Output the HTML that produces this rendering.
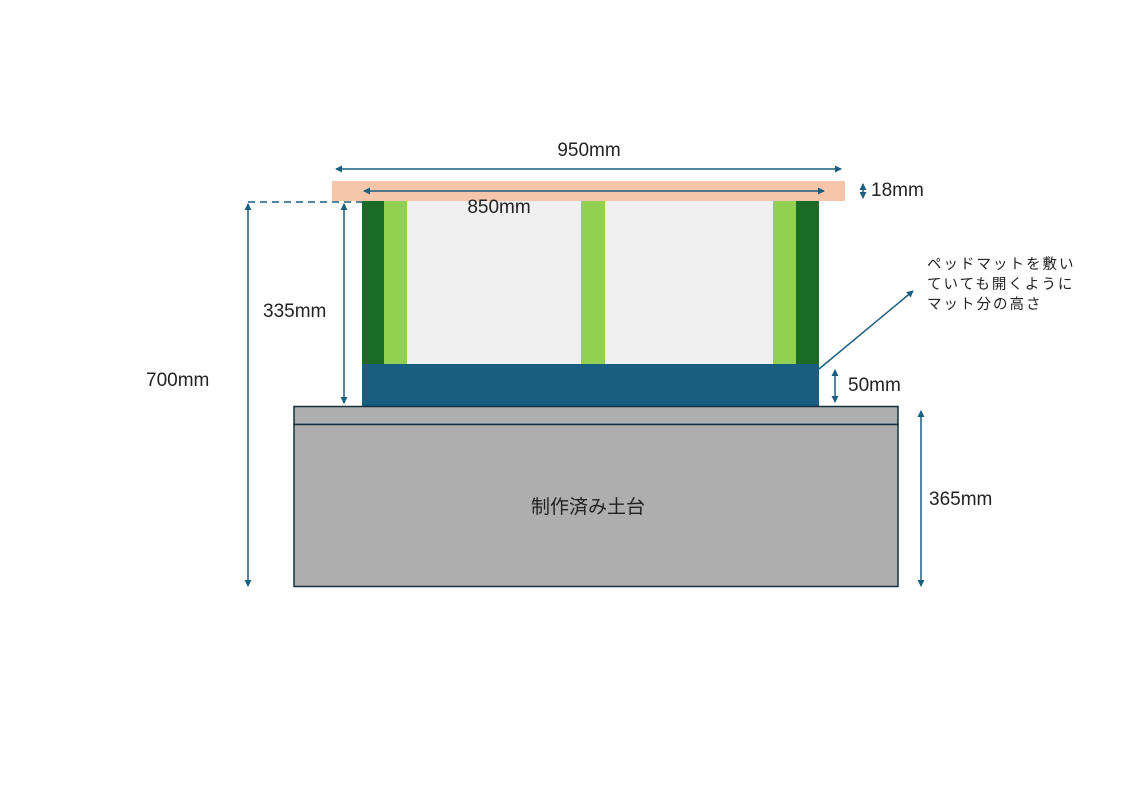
<!DOCTYPE html>
<html><head><meta charset="utf-8"><style>
body{margin:0;background:#fff;width:1123px;height:794px;overflow:hidden}
text{font-family:"Liberation Sans","Noto Sans CJK JP",sans-serif;fill:#222}
</style></head><body>
<svg width="1123" height="794" viewBox="0 0 1123 794">
<defs><marker id="a" markerWidth="8" markerHeight="8" refX="6" refY="4" orient="auto-start-reverse" markerUnits="userSpaceOnUse"><path d="M0,0.5 L7,4 L0,7.5z" fill="#1a5e80"/></marker></defs>
<rect x="332" y="181" width="513" height="20" fill="#f6c6aa"/>
<rect x="362" y="201" width="457" height="163" fill="#f0f0f0"/>
<rect x="362" y="201" width="22" height="163" fill="#1a6b25"/>
<rect x="384" y="201" width="23" height="163" fill="#92d050"/>
<rect x="581" y="201" width="24" height="163" fill="#92d050"/>
<rect x="773" y="201" width="23" height="163" fill="#92d050"/>
<rect x="796" y="201" width="23" height="163" fill="#1a6b25"/>
<rect x="362" y="364" width="457" height="42" fill="#175e80"/>
<rect x="294" y="406.5" width="604" height="18" fill="#aeaeae" stroke="#14303f" stroke-width="1.5"/>
<rect x="294" y="424.5" width="604" height="162" fill="#aeaeae" stroke="#14303f" stroke-width="1.5"/>
<g stroke="#1a5e80" stroke-width="1.5" fill="none">
<line x1="336" y1="169" x2="841" y2="169" marker-start="url(#a)" marker-end="url(#a)"/>
<line x1="364" y1="191" x2="824" y2="191" marker-start="url(#a)" marker-end="url(#a)"/>
<line x1="248" y1="202" x2="362" y2="202" stroke-dasharray="7,5"/>
<line x1="248" y1="204" x2="248" y2="586" marker-start="url(#a)" marker-end="url(#a)"/>
<line x1="344" y1="204" x2="344" y2="403" marker-start="url(#a)" marker-end="url(#a)"/>
<line x1="863" y1="184" x2="863" y2="198" marker-start="url(#a)" marker-end="url(#a)"/>
<line x1="835" y1="370" x2="835" y2="402" marker-start="url(#a)" marker-end="url(#a)"/>
<line x1="921" y1="411" x2="921" y2="586" marker-start="url(#a)" marker-end="url(#a)"/>
<line x1="819" y1="369" x2="913" y2="291" marker-end="url(#a)"/>
</g>
<g font-size="19">
<text x="589" y="156" text-anchor="middle">950mm</text>
<text x="499" y="213" text-anchor="middle">850mm</text>
<text x="871" y="196">18mm</text>
<text x="263" y="317">335mm</text>
<text x="146" y="386">700mm</text>
<text x="848" y="391">50mm</text>
<text x="929" y="505">365mm</text>
<text x="588" y="513" text-anchor="middle">制作済み土台</text>
</g>
<text font-size="14.5" letter-spacing="2"><tspan x="927" y="269">ペッドマットを敷い</tspan><tspan x="927" y="289">ていても開くように</tspan><tspan x="927" y="309">マット分の高さ</tspan></text>
</svg>
</body></html>
